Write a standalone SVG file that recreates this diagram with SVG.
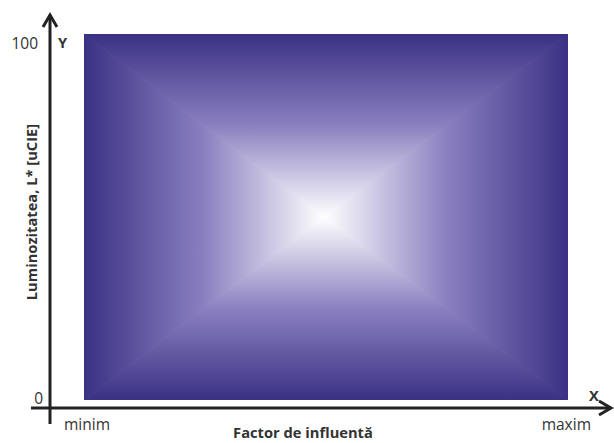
<svg xmlns="http://www.w3.org/2000/svg" width="614" height="443" viewBox="0 0 614 443">
<style>
.t{font-family:"Open Sans","Noto Sans",sans-serif;fill:#333;}
.n{font-size:15.5px;}
.b{font-size:14.7px;font-weight:bold;}
.ax{stroke:#222;stroke-width:3;fill:none;}
.tri{stroke-width:1;stroke-linejoin:round;}
</style>
<defs>
<linearGradient id="gl" gradientUnits="userSpaceOnUse" x1="84" y1="0" x2="324" y2="0">
<stop offset="0" stop-color="#3a3184"/><stop offset="0.5" stop-color="#8a80c0"/><stop offset="1" stop-color="#ffffff"/>
</linearGradient>
<linearGradient id="gr" gradientUnits="userSpaceOnUse" x1="568" y1="0" x2="324" y2="0">
<stop offset="0" stop-color="#3a3184"/><stop offset="0.5" stop-color="#8a80c0"/><stop offset="1" stop-color="#ffffff"/>
</linearGradient>
<linearGradient id="gt" gradientUnits="userSpaceOnUse" x1="0" y1="34" x2="0" y2="217">
<stop offset="0" stop-color="#3a3184"/><stop offset="0.5" stop-color="#8a80c0"/><stop offset="1" stop-color="#ffffff"/>
</linearGradient>
<linearGradient id="gb" gradientUnits="userSpaceOnUse" x1="0" y1="400" x2="0" y2="217">
<stop offset="0" stop-color="#3a3184"/><stop offset="0.5" stop-color="#8a80c0"/><stop offset="1" stop-color="#ffffff"/>
</linearGradient>
<clipPath id="c"><rect x="84" y="34" width="484" height="366"/></clipPath>
</defs>
<g id="plot" clip-path="url(#c)">
<polygon class="tri" points="84,34 84,400 324,217" fill="url(#gl)" stroke="url(#gl)"/>
<polygon class="tri" points="568,34 568,400 324,217" fill="url(#gr)" stroke="url(#gr)"/>
<polygon class="tri" points="84,34 568,34 324,217" fill="url(#gt)" stroke="url(#gt)"/>
<polygon class="tri" points="84,400 568,400 324,217" fill="url(#gb)" stroke="url(#gb)"/>
</g>
<g id="axes">
<line class="ax" x1="50" y1="15" x2="50" y2="424"/>
<polyline class="ax" points="43,27 50,15 57,27"/>
<line class="ax" x1="31" y1="408" x2="610" y2="408"/>
<polyline class="ax" points="599,401 611,408 599,415"/>
</g>
<g id="labels">
<text class="t n" x="38" y="49" text-anchor="end">100</text>
<text class="t b" x="58" y="48">Y</text>
<text class="t n" x="43" y="404" text-anchor="end">0</text>
<text class="t b" x="589" y="401">X</text>
<text class="t n" x="64" y="430">minim</text>
<text class="t n" x="591" y="430" text-anchor="end">maxim</text>
<text class="t b" x="303" y="438" text-anchor="middle">Factor de influentă</text>
<text class="t b" x="0" y="0" text-anchor="middle" transform="translate(37,212) rotate(-90)">Luminozitatea, L* [uCIE]</text>
</g>
</svg>
